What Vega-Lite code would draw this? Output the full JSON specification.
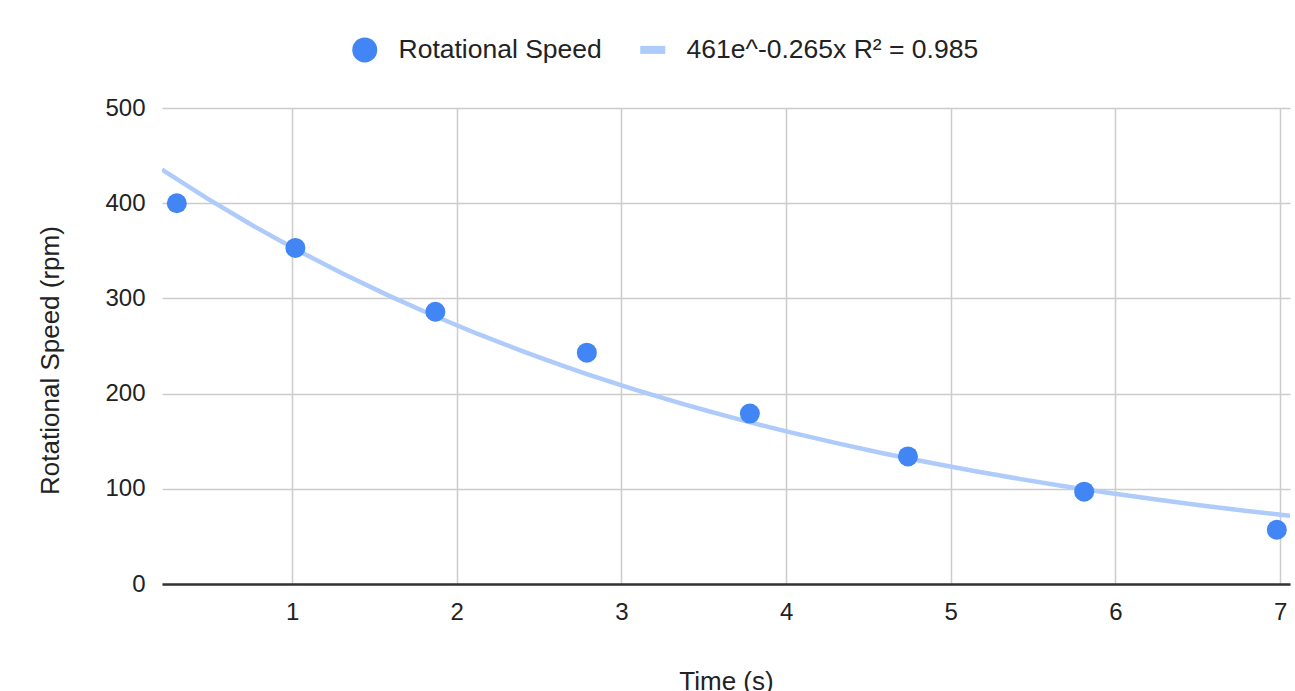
{
  "$schema": "https://vega.github.io/schema/vega-lite/v6.json",
  "width": 1128,
  "height": 476,
  "autosize": "none",
  "padding": {"left": 162, "top": 108, "right": 5, "bottom": 107},
  "background": "white",
  "config": {
    "font": "Liberation Sans",
    "view": {"stroke": null}
  },
  "data": {
    "values": [
      {"time": 0.30, "speed": 400},
      {"time": 1.02, "speed": 353},
      {"time": 1.87, "speed": 286},
      {"time": 2.79, "speed": 243},
      {"time": 3.78, "speed": 179},
      {"time": 4.74, "speed": 134},
      {"time": 5.81, "speed": 97},
      {"time": 6.98, "speed": 57}
    ]
  },
  "layer": [
    {
      "transform": [
        {"regression": "speed", "on": "time", "method": "exp", "extent": [0.21, 7.06]}
      ],
      "mark": {"type": "line", "strokeWidth": 4.5, "clip": true},
      "encoding": {
        "x": {"field": "time", "type": "quantitative"},
        "y": {"field": "speed", "type": "quantitative"},
        "color": {"datum": "461e^-0.265x R² = 0.985"}
      }
    },
    {
      "mark": {"type": "point", "filled": true, "opacity": 1, "size": 400},
      "encoding": {
        "x": {
          "field": "time", "type": "quantitative",
          "scale": {"domain": [0.21, 7.06], "nice": false, "zero": false},
          "axis": {"title": "Time (s)", "values": [1, 2, 3, 4, 5, 6, 7], "format": "d", "ticks": false, "labelFont": "Liberation Sans", "labelFontSize": 24, "labelColor": "#222222", "titleFont": "Liberation Sans", "titleFontSize": 26, "titleFontWeight": "normal", "titleColor": "#222222", "labelPadding": 16, "titlePadding": 44, "domain": true, "domainColor": "#333333", "domainWidth": 2.5, "grid": true, "gridColor": "#cccccc", "gridWidth": 1.5}
        },
        "y": {
          "field": "speed", "type": "quantitative",
          "scale": {"domain": [0, 500], "nice": false},
          "axis": {"title": "Rotational Speed (rpm)", "values": [0, 100, 200, 300, 400, 500], "ticks": false, "labelFont": "Liberation Sans", "labelFontSize": 24, "labelColor": "#222222", "titleFont": "Liberation Sans", "titleFontSize": 26, "titleFontWeight": "normal", "titleColor": "#222222", "labelPadding": 17, "titlePadding": 41, "titleY": 252, "domain": false, "grid": true, "gridColor": "#cccccc", "gridWidth": 1.5}
        },
        "shape": {
          "datum": "Rotational Speed",
          "scale": {"domain": ["Rotational Speed", "461e^-0.265x R² = 0.985"], "range": ["circle", "M-1,-0.32H1V0.32H-1Z"]},
          "legend": null
        },
        "color": {
          "datum": "Rotational Speed",
          "scale": {"domain": ["Rotational Speed", "461e^-0.265x R² = 0.985"], "range": ["#4285f4", "#aecbfa"]},
          "legend": {
            "title": null,
            "orient": "none",
            "direction": "horizontal",
            "legendX": 189.5,
            "legendY": -71.5,
            "padding": 0,
            "labelFont": "Liberation Sans",
            "labelFontSize": 26.5,
            "labelColor": "#222222",
            "labelLimit": 600,
            "labelOffset": 20.5,
            "columnPadding": 37,
            "symbolSize": 625,
            "symbolStrokeWidth": 0,
            "symbolOpacity": 1,
            "encode": {
              "symbols": {
                "enter": {
                  "shape": {"signal": "datum.value == 'Rotational Speed' ? 'circle' : 'M-1,-0.32H1V0.32H-1Z'"}
                },
                "update": {
                  "shape": {"signal": "datum.value == 'Rotational Speed' ? 'circle' : 'M-1,-0.32H1V0.32H-1Z'"},
                  "fill": {"signal": "datum.value == 'Rotational Speed' ? '#4285f4' : '#aecbfa'"},
                  "stroke": {"value": "transparent"},
                  "opacity": {"value": 1}
                }
              }
            }
          }
        }
      }
    }
  ]
}
